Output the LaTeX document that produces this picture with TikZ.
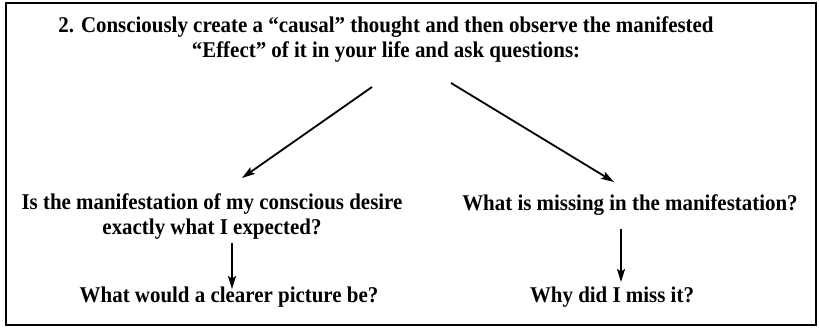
\documentclass[tikz,border=0pt]{standalone}
\usepackage{fontspec}
\setmainfont{Liberation Serif}
\newfontfamily\narrowbf[FakeStretch=0.93]{Liberation Serif Bold}
\usetikzlibrary{arrows.meta}
\begin{document}
\begin{tikzpicture}[x=1pt,y=-1pt,line width=1.8pt,
  txt/.style={inner sep=0pt,align=center,font=\narrowbf\fontsize{22.5}{25}\selectfont},
  arr/.style={-{Stealth[length=13pt,width=8pt,inset=2.5pt]}}]
\useasboundingbox (0,0) rectangle (819,329);
\draw[line width=2pt] (6,3) rectangle (816,325);
\node[txt] (title) at (386,40) {2. Consciously create a \char"201C causal\char"201D{} thought and then observe the manifested\\
\char"201C Effect\char"201D{} of it in your life and ask questions:};
\node[txt] (q1) at (212,217) {Is the manifestation of my conscious desire\\exactly what I expected?};
\node[txt] (q2) at (630,205) {What is missing in the manifestation?};
\node[txt] (q1b) at (229,297) {What would a clearer picture be?};
\node[txt] (q2b) at (612,297) {Why did I miss it?};
\coordinate (splitL) at (372,87);
\coordinate (splitR) at (451,83);
\coordinate (tipL) at (242,178);
\coordinate (tipR) at (614,182);
\draw[arr] (splitL) -- (tipL);
\draw[arr] (splitR) -- (tipR);
\draw[arr] (q1.south -| 232,0) ++(0,2) -- (232,289);
\draw[arr] (q2.south -| 621,0) ++(0,13) -- (621,282);
\end{tikzpicture}
\end{document}
